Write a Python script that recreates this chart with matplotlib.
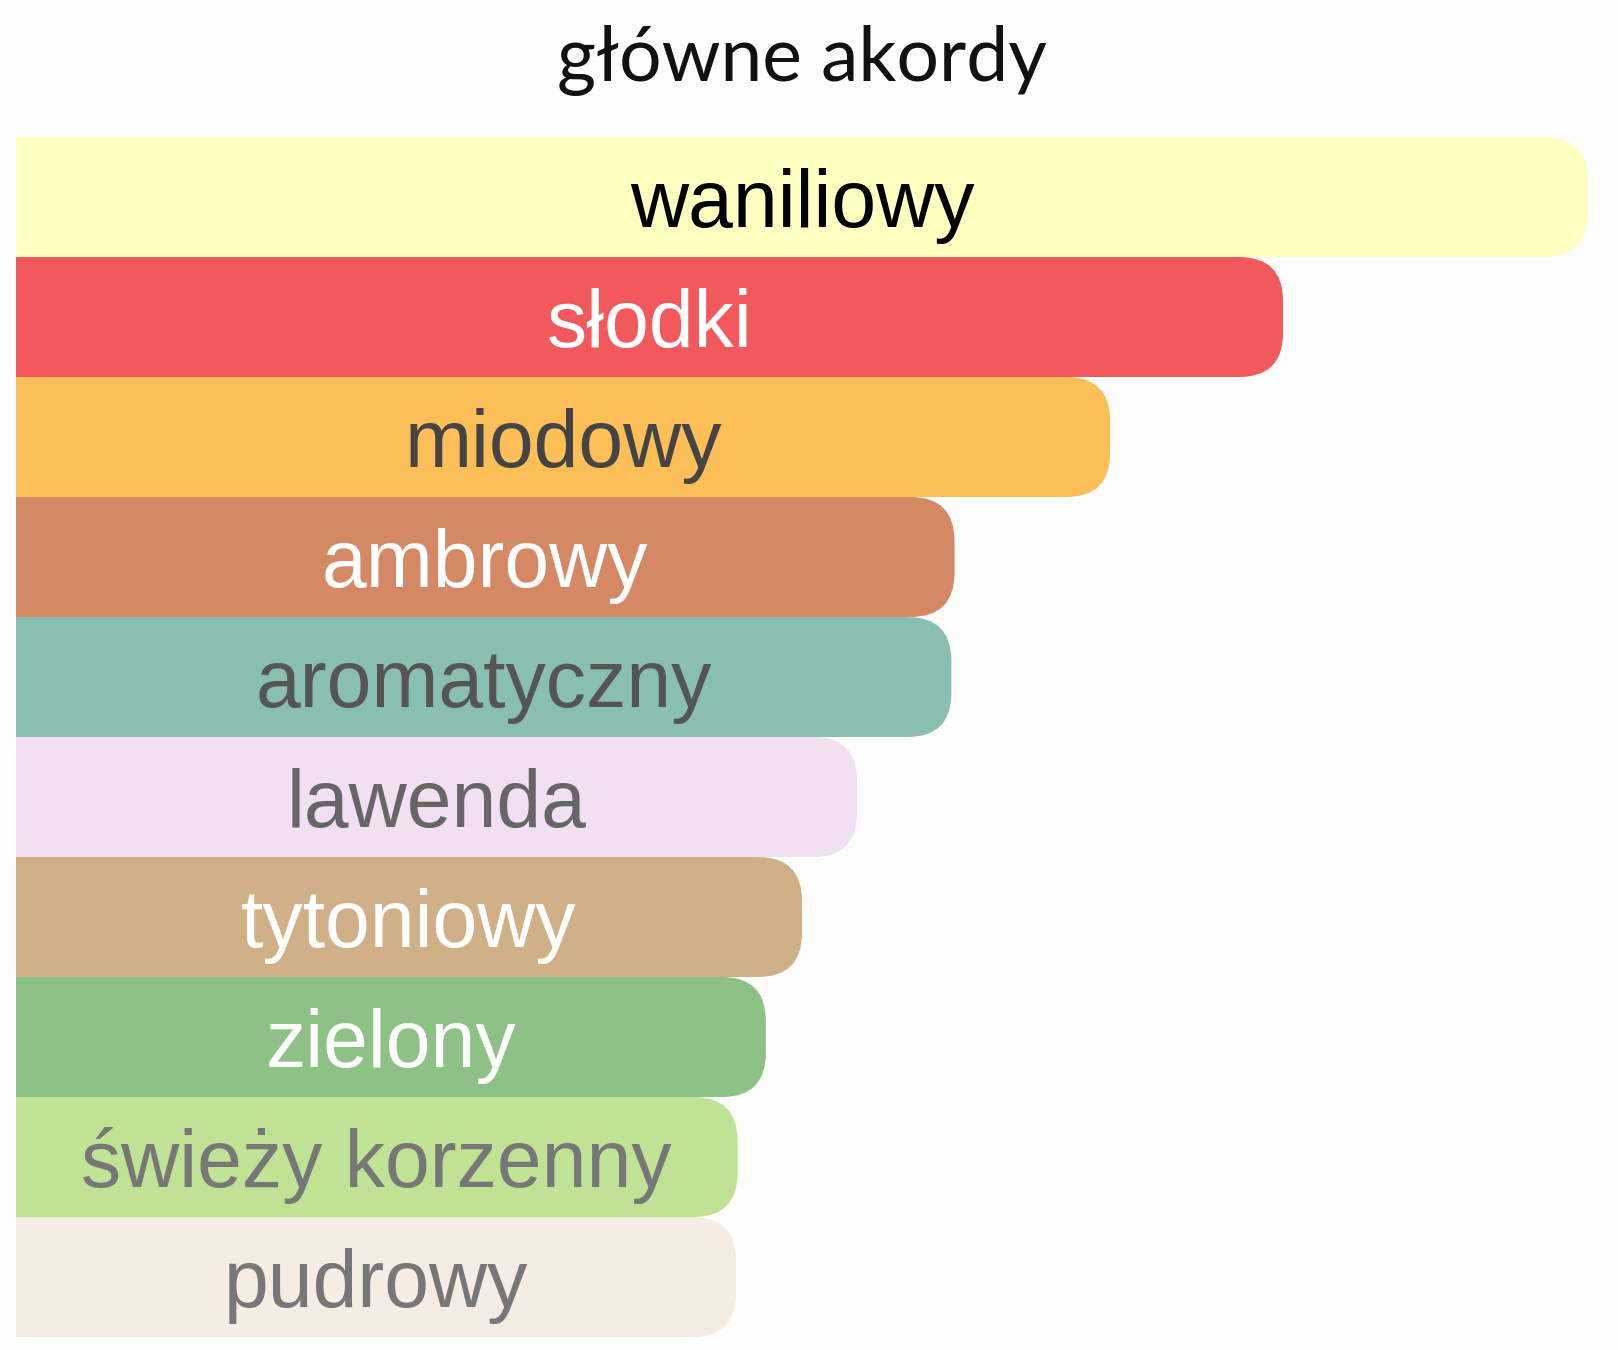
import matplotlib.pyplot as plt
from matplotlib.patches import FancyBboxPatch

# dane: akordy i ich udzial (%)
akordy = ["waniliowy", "słodki", "miodowy", "ambrowy", "aromatyczny",
          "lawenda", "tytoniowy", "zielony", "świeży korzenny", "pudrowy"]
wartosci = [100, 80.6, 69.6, 59.7, 59.5, 53.5, 50.0, 47.7, 45.9, 45.8]
kolory = ["#FFFEC1", "#F2595D", "#FCBF57", "#D48964", "#89BFB0",
          "#F0E0F2", "#D0B087", "#8EC186", "#BFE294", "#F5ECE4"]
kolory_tekstu = ["#000000", "#FFFFFF", "#444444", "#FFFFFF", "#555555",
                 "#666666", "#FFFFFF", "#FFFFFF", "#777777", "#777777"]

W, H = 1618, 1350
fig = plt.figure(figsize=(W / 100, H / 100), dpi=100, facecolor="#FDFDFD")

x0, x1 = 16, 1588
y0, y1 = 137, 1337
ax = fig.add_axes([x0 / W, (H - y1) / H, (x1 - x0) / W, (y1 - y0) / H])
ax.set_xlim(0, 100)
ax.set_ylim(len(akordy), 0)
ax.axis("off")

px_x = (x1 - x0) / 100          # pikseli na jednostke x
px_y = (y1 - y0) / len(akordy)  # pikseli na jednostke y
r_px = 44
rx = r_px / px_x
aspekt = px_x / px_y

for i, (nazwa, v, c, tc) in enumerate(zip(akordy, wartosci, kolory, kolory_tekstu)):
    # lewa czesc prostokatna, prawa zaokraglona
    ax.barh(i + 0.5, v - rx, left=0, height=1.0, color=c, linewidth=0)
    box = FancyBboxPatch((0, i), v, 1.0,
                         boxstyle="round,pad=0,rounding_size=%f" % rx,
                         mutation_aspect=aspekt, facecolor=c, edgecolor="none")
    ax.add_patch(box)
    ax.text(v / 2, i + 0.75, nazwa, ha="center", va="baseline",
            fontsize=58, color=tc, family=["Liberation Sans", "DejaVu Sans"])

fig.text((x0 + x1) / 2 / W, 1 - 81 / H, "główne akordy", ha="center",
         va="baseline", fontsize=54, color="#111111",
         family=["Lato", "DejaVu Sans"])

plt.savefig("out.png", dpi=100, facecolor=fig.get_facecolor())
